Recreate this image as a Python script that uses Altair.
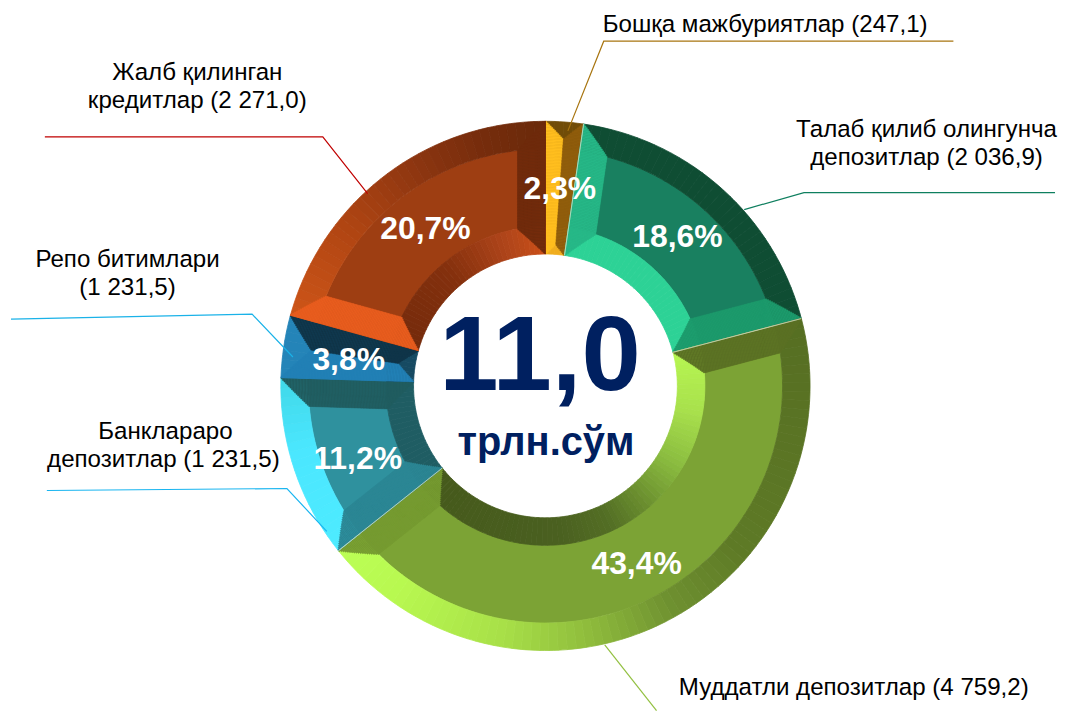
import math
import altair as alt
import pandas as pd

# ---- values
shares = [2.3, 18.6, 43.4, 11.2, 3.8, 20.7]
share_labels = ["2,3%", "18,6%", "43,4%", "11,2%", "3,8%", "20,7%"]
caption_lines = [
    "Бошқа мажбуриятлар (247,1)",
    "Талаб қилиб олингунча", "депозитлар (2 036,9)",
    "Муддатли депозитлар (4 759,2)",
    "Банклараро", "депозитлар (1 231,5)",
    "Репо битимлари", "(1 231,5)",
    "Жалб қилинган", "кредитлар (2 271,0)",
]
total_text = "11,0"
unit_text = "трлн.сўм"

# ---- styles: colour of each facet of each slice
face_colors = ["#B07A14", "#198060", "#7CA335", "#2F919E", "#1F7DB0", "#9E3E12"]
side_start = ["#FFBE1E", "#26B787", "#5A7024", "#2B8694", "#2280B5", "#E85D1E"]
side_end = ["#8F5C0C", "#1C9A6C", "#759A30", "#205C5F", "#0F3448", "#6E2A0B"]
outer_stops = [
    [(0, "#714C07")],
    [(0, "#0F4D33")],
    [(75, "#566E22"), (130, "#5E7A26"), (150, "#6E9030"), (170, "#8FBC3C"), (190, "#A8E048"), (215, "#B8F850"), (232, "#BBFF55")],
    [(232, "#4DEBFF"), (255, "#4BE7FF"), (272, "#40D8E8")],
    [(0, "#2484B8")],
    [(285, "#CE5518"), (310, "#AE4412"), (330, "#8C3510"), (345, "#762C0C"), (360, "#6A2A0A")],
]
inner_stops = [
    [(0, "#F0AD1E")],
    [(0, "#2DD296")],
    [(75, "#B8F852"), (100, "#A8E04C"), (120, "#8CBE40"), (140, "#6A8E2E"), (155, "#536E24"), (175, "#4A6020"), (232, "#45591B")],
    [(0, "#1F5D63")],
    [(0, "#164A62")],
    [(285, "#732A0B"), (320, "#84300D"), (345, "#B0451A"), (360, "#CC5018")],
]
seam_after = [1, 2, 3]  # slice boundaries with a thin light seam
seam_color = "#D8E4C8"

CX, CY = 546.5, 386.0
R_OUT, R_IN, BEVEL = 266.0, 132.0, 28.0
BAND, PIECE = 1.5, 2.0
INSET = 0.4
OFF = 8.0


def hex_rgb(h):
    return [int(h[i:i + 2], 16) for i in (1, 3, 5)]


def shade(stops, a):
    if len(stops) == 1 or a <= stops[0][0]:
        return stops[0][1]
    for (a0, c0), (a1, c1) in zip(stops, stops[1:]):
        if a <= a1:
            t = (a - a0) / (a1 - a0)
            rgb = [round(u + (v - u) * t) for u, v in zip(hex_rgb(c0), hex_rgb(c1))]
            return "#%02x%02x%02x" % tuple(rgb)
    return stops[-1][1]


rows = []
seams = []
start = 0.0
for i, s in enumerate(shares):
    a0, a1 = start * 3.6, (start + s) * 3.6
    start += s
    # base: face, then the outer and inner rims as angular pieces
    rows.append(dict(a0=a0, a1=a1, r0=R_IN + BEVEL, r1=R_OUT - BEVEL, c=face_colors[i], w=0.8))
    a = a0
    while a < a1 - 1e-6:
        e = min(a + PIECE, a1)
        m = (a + e) / 2
        rows.append(dict(a0=a, a1=e, r0=R_OUT - BEVEL, r1=R_OUT - INSET, c=shade(outer_stops[i], m), w=0.8))
        rows.append(dict(a0=a, a1=e, r0=R_IN + INSET, r1=R_IN + BEVEL, c=shade(inner_stops[i], m), w=0.8))
        a = e
    # the side facets, mitred into the rims, on top
    r = R_IN
    while r < R_OUT - 1e-6:
        rm = r + BAND / 2
        d = min(R_OUT - rm, rm - R_IN, BEVEL)
        da = min(math.degrees(math.asin(min(1, d / rm))), (a1 - a0) / 2)
        lo, hi = max(r, R_IN + INSET), min(r + BAND, R_OUT - INSET)
        rows.append(dict(a0=a0, a1=a0 + da, r0=lo, r1=hi, c=side_start[i], w=0.6))
        rows.append(dict(a0=a1 - da, a1=a1, r0=lo, r1=hi, c=side_end[i], w=0.6))
        r += BAND
    if i in seam_after:
        seams.append(dict(a0=a0, a1=a0 + 0.02, r0=R_IN + INSET, r1=R_OUT - INSET, c=seam_color, w=0.5))
rows.extend(seams)
ring = pd.DataFrame(rows)
ring["idx"] = range(len(ring))

leaders = [
    ("a", "#A87510", [(956, 40), (605, 40), (569, 130)]),
    ("b", "#0F7F5F", [(1066, 192), (806, 192), (746, 209)]),
    ("c", "#92C040", [(606, 646), (658, 720)]),
    ("d", "#19B5F0", [(46, 491), (287, 489), (327, 532)]),
    ("e", "#1AB2E8", [(10, 319), (252, 314), (293, 357)]),
    ("f", "#C00000", [(44, 136), (323, 136), (368, 193)]),
]
leader_df = pd.DataFrame(
    [dict(k=k, c=c, n=n, x=p[0], y=p[1]) for k, c, pts in leaders for n, p in enumerate(pts)]
)

W, H = 1050, 704
xs = alt.Scale(domain=[OFF, OFF + W], range=[0, W], clamp=True)
ys = alt.Scale(domain=[OFF, OFF + H], range=[0, H], clamp=True)

arcs = alt.Chart(ring).mark_arc(x=CX - OFF, y=CY - OFF).encode(
    theta=alt.Theta("a0:Q", scale=alt.Scale(domain=[0, 360], range=[0, 2 * math.pi]), stack=False),
    theta2="a1:Q",
    radius=alt.Radius("r0:Q", scale=alt.Scale(type="linear", domain=[0, R_OUT], range=[0, R_OUT])),
    radius2="r1:Q",
    fill=alt.Fill("c:N", scale=None),
    stroke=alt.Stroke("c:N", scale=None),
    strokeWidth=alt.StrokeWidth("w:Q", scale=None),
    order=alt.Order("idx:Q"),
)

lines = alt.Chart(leader_df).mark_line(strokeWidth=1.2).encode(
    x=alt.X("x:Q", scale=xs, axis=None),
    y=alt.Y("y:Q", scale=ys, axis=None),
    detail="k:N",
    order="n:Q",
    color=alt.Color("c:N", scale=None),
)

share_x = [561, 679, 638, 358, 349, 426]
share_y = [188, 237, 565, 459, 360, 229]
share_df = pd.DataFrame(dict(t=share_labels, x=share_x, y=share_y))
share_text = alt.Chart(share_df).mark_text(
    font="Liberation Sans", fontSize=32, fontWeight="bold", color="white", baseline="middle", align="center"
).encode(x=alt.X("x:Q", scale=xs, axis=None), y=alt.Y("y:Q", scale=ys, axis=None), text="t:N")

cap_x = [767, 929, 929, 856, 165, 163, 127, 127, 197, 197]
cap_y = [24, 129, 157, 689, 432, 460, 260, 288, 72, 100]
cap_df = pd.DataFrame(dict(t=caption_lines, x=cap_x, y=cap_y))
cap_text = alt.Chart(cap_df).mark_text(
    font="Liberation Sans", fontSize=24.2, color="black", baseline="middle", align="center"
).encode(x=alt.X("x:Q", scale=xs, axis=None), y=alt.Y("y:Q", scale=ys, axis=None), text="t:N")

centre_df = pd.DataFrame(dict(t=[total_text], x=[541], y=[358]))
centre = alt.Chart(centre_df).mark_text(
    font="Liberation Sans", fontSize=107, fontWeight="bold", color="#002060", baseline="middle", align="center"
).encode(x=alt.X("x:Q", scale=xs, axis=None), y=alt.Y("y:Q", scale=ys, axis=None), text="t:N")

unit_df = pd.DataFrame(dict(t=[unit_text], x=[547], y=[443]))
unit = alt.Chart(unit_df).mark_text(
    font="Liberation Sans", fontSize=40, fontWeight="bold", color="#002060", baseline="middle", align="center"
).encode(x=alt.X("x:Q", scale=xs, axis=None), y=alt.Y("y:Q", scale=ys, axis=None), text="t:N")

chart = alt.layer(arcs, lines, share_text, cap_text, centre, unit).properties(
    width=W, height=H, padding=0, background="white"
).configure_view(stroke=None)

chart.save("out.html", embed_options={"renderer": "svg", "actions": False})
